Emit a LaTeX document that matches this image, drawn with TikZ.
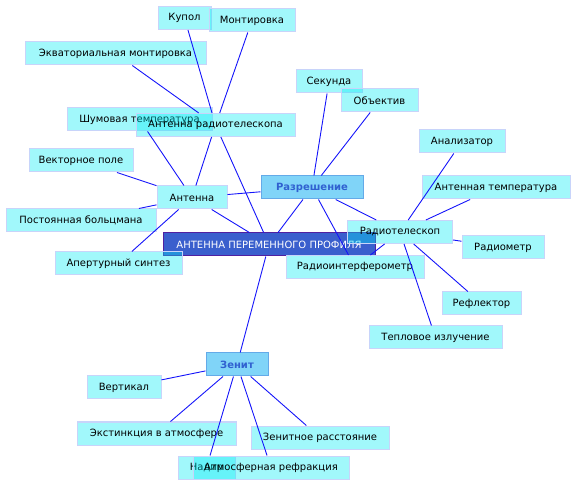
\documentclass[tikz,border=0pt]{standalone}
\usepackage{fontspec}
\setmainfont{DejaVu Sans}
\definecolor{boxfill}{RGB}{0,235,245}
\definecolor{boxdraw}{RGB}{200,212,250}
\definecolor{hubfill}{RGB}{128,212,248}
\definecolor{hubdraw}{RGB}{100,170,232}
\definecolor{hubtext}{RGB}{48,96,208}
\definecolor{mainfill}{RGB}{58,95,205}
\definecolor{maindraw}{RGB}{80,32,160}
\definecolor{edgec}{RGB}{20,20,250}
\tikzset{
  box/.style={rectangle, inner sep=0pt, minimum height=23pt, fill=boxfill, fill opacity=0.37, text opacity=1, draw=boxdraw, line width=1pt, font=\fontsize{10}{12}\selectfont, text=black},
  hub/.style={rectangle, inner sep=0pt, minimum height=23pt, fill=hubfill, draw=hubdraw, line width=1pt, font=\fontsize{10}{12}\selectfont\bfseries, text=hubtext},
  mainbox/.style={rectangle, inner sep=0pt, minimum height=23pt, fill=mainfill, draw=maindraw, line width=1pt, font=\fontsize{10}{12}\selectfont, text=white},
  link/.style={draw=edgec, line width=0.9pt}
}
\begin{document}
\begin{tikzpicture}[x=1pt,y=-1pt]
\useasboundingbox (0,0) rectangle (576,486);
\node[mainbox, minimum width=212pt] (center) at (269,244.5) {АНТЕННА ПЕРЕМЕННОГО ПРОФИЛЯ};
\node[hub, minimum width=102pt] (razr) at (312,187.5) {Разрешение};
\node[hub, minimum width=62pt] (zenit) at (237,364.5) {Зенит};
\node[box, minimum width=53pt] (kupol) at (184.5,18) {Купол};
\node[box, minimum width=86pt] (mont) at (252,20.5) {Монтировка};
\node[box, minimum width=181pt] (ekv) at (115.5,53.5) {Экваториальная монтировка};
\node[box, minimum width=145pt] (shum) at (139.5,119.5) {Шумовая температура};
\node[box, minimum width=159pt] (antrt) at (215.5,125) {Антенна радиотелескопа};
\node[box, minimum width=66pt] (sek) at (329,81.5) {Секунда};
\node[box, minimum width=77pt] (obj) at (379.5,100.5) {Объектив};
\node[box, minimum width=86pt] (anal) at (462,141.5) {Анализатор};
\node[box, minimum width=148pt] (antt) at (496,187.5) {Антенная температура};
\node[box, minimum width=104pt] (vekt) at (81,160.5) {Векторное поле};
\node[box, minimum width=70pt] (antenna) at (192,197.5) {Антенна};
\node[box, minimum width=150pt] (post) at (81,220.5) {Постоянная больцмана};
\node[box, minimum width=105pt] (rtel) at (400,232) {Радиотелескоп};
\node[box, minimum width=82pt] (radiom) at (503,247.5) {Радиометр};
\node[box, minimum width=127pt] (apert) at (118.5,263.5) {Апертурный синтез};
\node[box, minimum width=138pt] (rint) at (355,267) {Радиоинтерферометр};
\node[box, minimum width=79pt] (refl) at (481.5,303.5) {Рефлектор};
\node[box, minimum width=133pt] (tepl) at (435.5,337.5) {Тепловое излучение};
\node[box, minimum width=74pt] (vert) at (124,387.5) {Вертикал};
\node[box, minimum width=159pt] (ekst) at (156.5,433.5) {Экстинкция в атмосфере};
\node[box, minimum width=138pt] (zenr) at (320,437.5) {Зенитное расстояние};
\node[box, minimum width=57pt] (nadir) at (206.5,467.5) {Надир};
\node[box, minimum width=156pt] (atm) at (271,467.5) {Атмосферная рефракция};
\foreach \a/\b in {center/antenna, center/antrt, center/razr, center/zenit,
  antrt/kupol, antrt/mont, antrt/ekv, antrt/antenna,
  antenna/shum, antenna/vekt, antenna/post, antenna/apert, antenna/razr,
  razr/sek, razr/obj, razr/rtel, razr/rint,
  rtel/anal, rtel/antt, rtel/radiom, rtel/refl, rtel/tepl, rtel/rint,
  zenit/vert, zenit/ekst, zenit/nadir, zenit/atm, zenit/zenr}
  \draw[link] (\a) -- (\b);
\end{tikzpicture}
\end{document}
